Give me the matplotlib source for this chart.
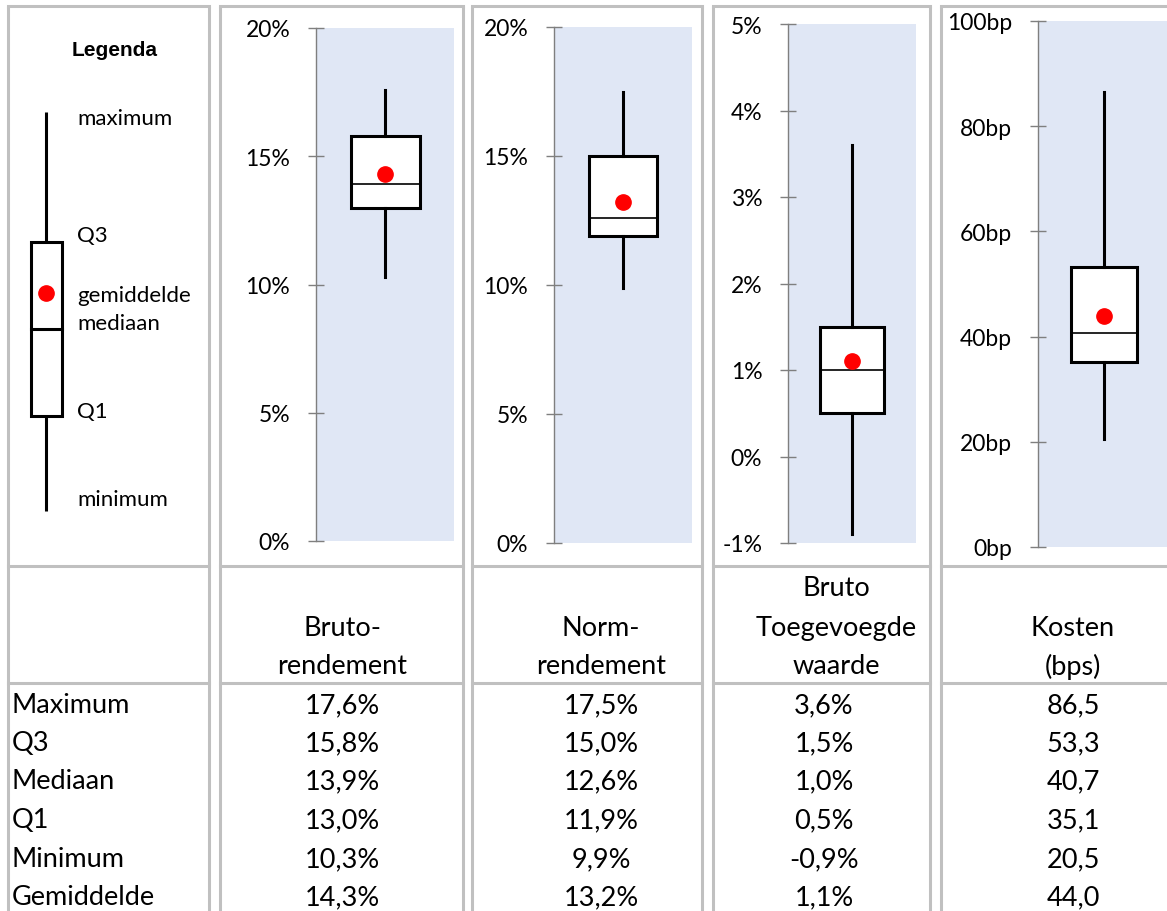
import matplotlib
matplotlib.use("Agg")
import matplotlib.pyplot as plt
from matplotlib.patches import Rectangle

plt.rcParams["font.family"] = ["Lato", "DejaVu Sans"]

# Spreiding van rendementen en kosten per fonds
categories = ["Bruto-\nrendement", "Norm-\nrendement", "Bruto\nToegevoegde\nwaarde", "Kosten\n(bps)"]
maximum = [17.6, 17.5, 3.6, 86.5]
q3 = [15.8, 15.0, 1.5, 53.3]
mediaan = [13.9, 12.6, 1.0, 40.7]
q1 = [13.0, 11.9, 0.5, 35.1]
minimum = [10.3, 9.9, -0.9, 20.5]
gemiddelde = [14.3, 13.2, 1.1, 44.0]
units = ["%", "%", "%", ""]

row_labels = ["Maximum", "Q3", "Mediaan", "Q1", "Minimum", "Gemiddelde"]

y_limits = [(0, 20), (0, 20), (-1, 5), (0, 100)]
y_steps = [5, 5, 1, 20]
tick_units = ["%", "%", "%", "bp"]

# layout in pixels (figure is 1167 x 912)
W, H = 1167, 912
col_edges = [(8, 209), (220, 463), (472, 702), (713, 930), (941, 1215)]
panel_boxes = [(316, 138, 29, 542), (554, 138, 28, 544), (788, 128, 25, 544), (1038, 132, 22, 548)]
header_x = [342, 601, 836, 1073]
value_x = [342, 601, 824, 1073]
row_y = [706, 744, 782, 821, 860, 898]
header_lines_y = [589, 629, 667]

BORDER = "#c0c0c0"
SHADE = "#e0e7f5"
AXIS_GREY = "#7f7f7f"
TABLE_FS = 19.5

fig = plt.figure(figsize=(W / 100, H / 100), dpi=100)
bg = fig.add_axes([0, 0, 1, 1])
bg.set_xlim(0, W)
bg.set_ylim(H, 0)
bg.axis("off")

# cell borders
for x0, x1 in col_edges:
    bg.plot([x0, x0], [7, H + 5], color=BORDER, lw=2.2, solid_capstyle="butt")
    bg.plot([x1, x1], [7, H + 5], color=BORDER, lw=2.2, solid_capstyle="butt")
    bg.plot([x0, x1], [7, 7], color=BORDER, lw=2.2, solid_capstyle="projecting")
    bg.plot([x0, x1], [567, 567], color=BORDER, lw=2.2, solid_capstyle="projecting")
    bg.plot([x0, x1], [684, 684], color=BORDER, lw=2.2, solid_capstyle="projecting")

# legend column
bg.text(115, 50, "Legenda", ha="center", va="center", fontsize=15,
        fontweight="bold", family="Liberation Sans")
bg.plot([46, 46], [113, 512], color="black", lw=2.2, solid_capstyle="butt")
bg.add_patch(Rectangle((31, 243), 31, 174, facecolor="white", edgecolor="black", lw=2.2, zorder=3))
bg.plot([31, 62], [330, 330], color="black", lw=2.2, zorder=4)
bg.plot([46], [294], "o", color="red", markersize=11, zorder=5)
legend_items = [("maximum", 119), ("Q3", 236), ("gemiddelde", 296), ("mediaan", 324),
                ("Q1", 412), ("minimum", 500)]
for txt, y in legend_items:
    bg.text(77, y, txt, ha="left", va="center", fontsize=16)

# headers and table values
for i, cat in enumerate(categories):
    lines = cat.split("\n")
    ys = header_lines_y[-len(lines):]
    for line, y in zip(lines, ys):
        bg.text(header_x[i], y, line, ha="center", va="center", fontsize=TABLE_FS)

for r, label in enumerate(row_labels):
    bg.text(12, row_y[r], label, ha="left", va="center", fontsize=TABLE_FS)

stats_rows = [maximum, q3, mediaan, q1, minimum, gemiddelde]
for r, vals in enumerate(stats_rows):
    for i, v in enumerate(vals):
        s = f"{v:.1f}".replace(".", ",") + units[i]
        bg.text(value_x[i], row_y[r], s, ha="center", va="center", fontsize=TABLE_FS)

# box plots
for i in range(len(categories)):
    x, w, top, bottom = panel_boxes[i]
    ax = fig.add_axes([x / W, 1 - bottom / H, w / W, (bottom - top) / H])
    ax.set_facecolor(SHADE)
    stats = [{
        "whislo": minimum[i], "q1": q1[i], "med": mediaan[i],
        "q3": q3[i], "whishi": maximum[i], "mean": gemiddelde[i],
    }]
    ax.bxp(stats, positions=[0.5], widths=0.5, showmeans=True, showcaps=False,
           showfliers=False, patch_artist=True,
           boxprops=dict(facecolor="white", edgecolor="black", linewidth=2.2),
           whiskerprops=dict(color="black", linewidth=2.2),
           medianprops=dict(color="black", linewidth=1.2),
           meanprops=dict(marker="o", markerfacecolor="red", markeredgecolor="red",
                          markersize=11))
    lo, hi = y_limits[i]
    ax.set_xlim(0, 1)
    ax.set_ylim(lo, hi)
    ticks = list(range(lo, hi + 1, y_steps[i]))
    ax.set_yticks(ticks)
    ax.set_yticklabels([f"{t}{tick_units[i]}" for t in ticks])
    ax.set_xticks([])
    for side in ["top", "right", "bottom"]:
        ax.spines[side].set_visible(False)
    ax.spines["left"].set_color(AXIS_GREY)
    ax.spines["left"].set_linewidth(1.0)
    ax.tick_params(axis="y", direction="inout", length=12, width=1.0,
                   color=AXIS_GREY, labelsize=16.5, pad=12.5)

fig.savefig("out.png", dpi=100)
